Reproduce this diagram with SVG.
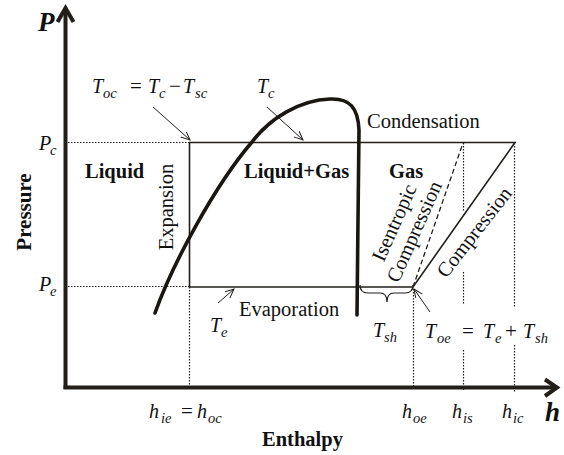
<svg xmlns="http://www.w3.org/2000/svg" width="564" height="455" viewBox="0 0 564 455">
<style>
text{font-family:'Liberation Serif','Times New Roman',Times,'DejaVu Serif','Noto Serif',serif}
.t{font-size:20.5px;fill:#111}
.b{font-weight:bold}
.m{font-style:italic;font-size:20px;fill:#111}
.s{font-size:14.5px}
.op{font-style:normal;font-size:21px}
.ax{stroke:#221f1a;stroke-width:4;fill:none}
.ln{stroke:#221f1a;stroke-width:1.6;fill:none}
.dot{stroke:#221f1a;stroke-width:1.2;stroke-dasharray:1.5 1.5;fill:none}
.dash{stroke:#221f1a;stroke-width:1.3;stroke-dasharray:5 3;fill:none}
.thin{stroke:#221f1a;stroke-width:1;fill:none;marker-end:url(#ah)}
</style>
<defs>
<marker id="ah" markerWidth="10" markerHeight="10" refX="9" refY="4" orient="auto" markerUnits="userSpaceOnUse">
<path d="M0,0 L9,4 L0,8" fill="none" stroke="#221f1a" stroke-width="1"/>
</marker>
</defs>
<g id="axes">
<path class="ax" d="M65.5,389 L65.5,8"/>
<path class="ax" d="M57.5,22 L65.5,8 L73.5,22"/>
<path class="ax" d="M63.5,387.5 L556,387.5"/>
<path class="ax" d="M545,379.5 L557,387.5 L545,396"/>
<text class="t b" x="0" y="0" transform="translate(24,212) rotate(-90)" text-anchor="middle" dy="7" style="font-size:21px">Pressure</text>
<text class="t b" x="262" y="446">Enthalpy</text>
<text class="m b" x="38" y="31" style="font-size:27px">P</text>
<text class="m b" x="545" y="421" style="font-size:27px">h</text>
</g>
<g id="connectors">
<path class="dot" d="M65,142.5 H189"/>
<path class="dot" d="M65,286.5 H189"/>
<path class="dot" d="M189.5,287 V387"/>
<path class="dot" d="M413.5,289 V387"/>
<path class="dot" d="M463.5,143 V212 M463.5,272 V305 M463.5,350 V390"/>
<path class="dot" d="M514.5,143 V307 M514.5,345 V393"/>
<path class="dash" d="M413,287 L463,143"/>
<path class="thin" d="M153,107 L190,140"/>
<path class="thin" d="M267,107 L303,140"/>
<path class="thin" d="M218,303 L234,289"/>
<path class="thin" d="M430,312 L414,289"/>
<path class="ln" d="M360,285 Q360,293 368,293 L380,293 Q387,293 387,302 Q387,293 394,293 L405,293 Q413,293 413,285" style="stroke-width:1.2"/>
</g>
<g id="cycle">
<path class="ln" d="M189.5,287 V142.5 H515 L413,287 Z"/>
</g>
<g id="dome">
<path d="M155,313 C172,265 215,185 252,142 C270,118 300,100 330,99 C350,98 358,108 359,130 L358,220 L357,315" fill="none" stroke="#1a1712" stroke-width="3.6" stroke-linecap="round"/>
</g>
<g id="labels">
<text class="t b" x="85" y="178">Liquid</text>
<text class="t b" x="244" y="178">Liquid+Gas</text>
<text class="t b" x="389" y="178">Gas</text>
<text class="t" x="367" y="128">Condensation</text>
<text class="t" x="239" y="316">Evaporation</text>
<text class="t" x="0" y="0" transform="translate(166,207) rotate(-90)" text-anchor="middle" dy="7">Expansion</text>
<g transform="translate(404,227) rotate(-66)">
<text class="t" x="0" y="-4" text-anchor="middle">Isentropic</text>
<text class="t" x="0" y="18" text-anchor="middle">Compression</text>
</g>
<text class="t" x="0" y="7" transform="translate(474,232) rotate(-52)" text-anchor="middle">Compression</text>
</g>
<g id="math">
<text class="m"><tspan x="39" y="150">P</tspan><tspan class="s" x="50" y="155">c</tspan></text>
<text class="m"><tspan x="39" y="291">P</tspan><tspan class="s" x="50" y="296">e</tspan></text>
<text class="m"><tspan x="92" y="93">T</tspan><tspan class="s" x="103" y="98">oc</tspan><tspan class="op" x="130" y="93">=</tspan><tspan x="148" y="93">T</tspan><tspan class="s" x="159" y="98">c</tspan><tspan class="op" x="169" y="93">−</tspan><tspan x="183" y="93">T</tspan><tspan class="s" x="195" y="98">sc</tspan></text>
<text class="m"><tspan x="257" y="93">T</tspan><tspan class="s" x="268" y="98">c</tspan></text>
<text class="m"><tspan x="210" y="332">T</tspan><tspan class="s" x="221" y="337">e</tspan></text>
<text class="m"><tspan x="373" y="337">T</tspan><tspan class="s" x="384" y="342">sh</tspan></text>
<text class="m"><tspan x="425" y="338">T</tspan><tspan class="s" x="437" y="343">oe</tspan><tspan class="op" x="462" y="338">=</tspan><tspan x="483" y="338">T</tspan><tspan class="s" x="495" y="343">e</tspan><tspan class="op" x="505" y="338">+</tspan><tspan x="523" y="338">T</tspan><tspan class="s" x="535" y="343">sh</tspan></text>
<text class="m"><tspan x="149" y="418">h</tspan><tspan class="s" x="161" y="423">ie</tspan><tspan class="op" x="181" y="418">=</tspan><tspan x="197" y="418">h</tspan><tspan class="s" x="208" y="423">oc</tspan></text>
<text class="m"><tspan x="402" y="418">h</tspan><tspan class="s" x="413" y="423">oe</tspan></text>
<text class="m"><tspan x="452" y="418">h</tspan><tspan class="s" x="463" y="423">is</tspan></text>
<text class="m"><tspan x="502" y="418">h</tspan><tspan class="s" x="513" y="423">ic</tspan></text>
</g>
</svg>
